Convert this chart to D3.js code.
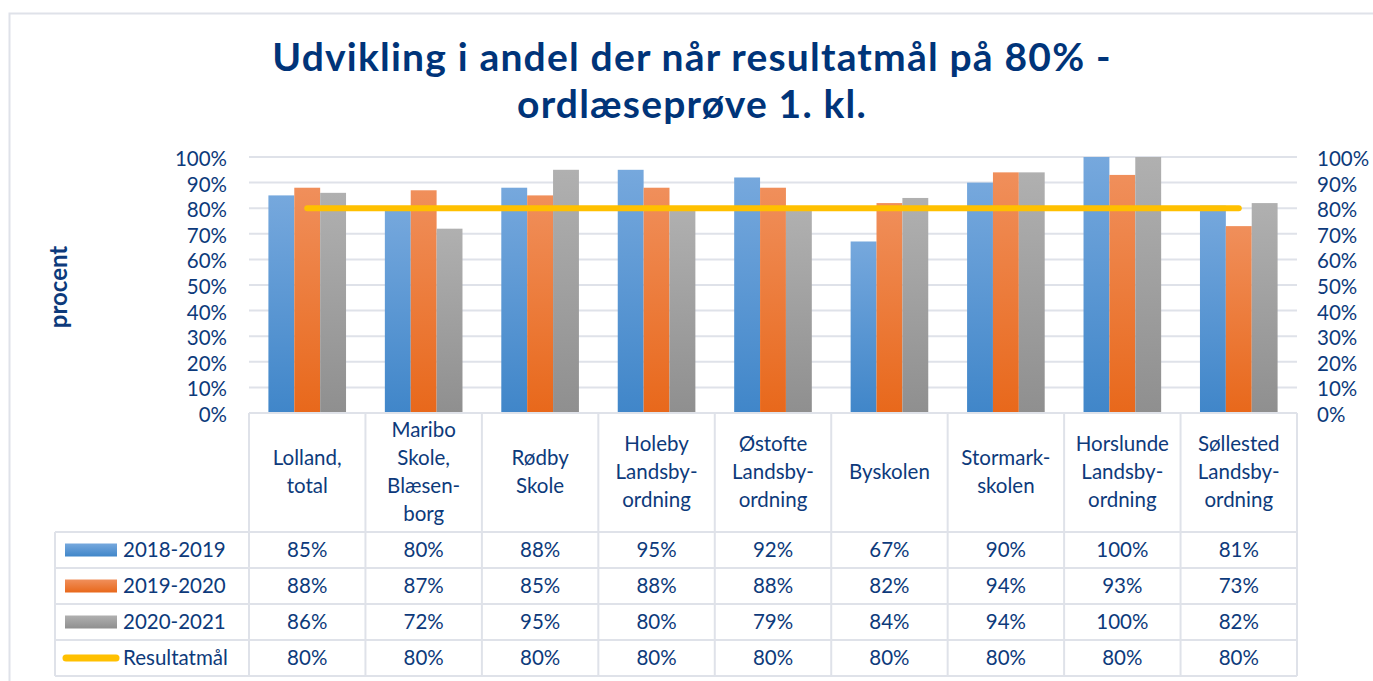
<!DOCTYPE html>
<html>
<head>
<meta charset="utf-8">
<script src="https://cdn.jsdelivr.net/npm/d3@7"></script>
<style>
  body { margin: 0; background: #fff; }
  svg { display: block; font-family: Lato, "Open Sans", sans-serif; }
</style>
</head>
<body>
<svg id="chart"></svg>
<script>
const width = 1373;
const height = 681;
const textColor = '#0d3a7b';
const lineColor = '#dfe2e9';

// data
const categories = [
  ['Lolland,', 'total'],
  ['Maribo', 'Skole,', 'Blæsen-', 'borg'],
  ['Rødby', 'Skole'],
  ['Holeby', 'Landsby-', 'ordning'],
  ['Østofte', 'Landsby-', 'ordning'],
  ['Byskolen'],
  ['Stormark-', 'skolen'],
  ['Horslunde', 'Landsby-', 'ordning'],
  ['Søllested', 'Landsby-', 'ordning']
];
const seriesNames = ['2018-2019', '2019-2020', '2020-2021'];
const s2018 = [85, 80, 88, 95, 92, 67, 90, 100, 81];
const s2019 = [88, 87, 85, 88, 88, 82, 94, 93, 73];
const s2020 = [86, 72, 95, 80, 79, 84, 94, 100, 82];
const goalName = 'Resultatmål';
const goal = [80, 80, 80, 80, 80, 80, 80, 80, 80];
const yTicks = [0, 10, 20, 30, 40, 50, 60, 70, 80, 90, 100];

const series = [s2018, s2019, s2020];
const gradients = [
  ['#76a8dd', '#4086c9'],
  ['#f08f5b', '#e8681b'],
  ['#b0b0b0', '#8f8f8f']
];

const svg = d3.select('#chart').attr('width', width).attr('height', height);

// outer frame
svg.append('rect')
  .attr('x', 9.5).attr('y', 13.5)
  .attr('width', width + 20).attr('height', height + 20)
  .attr('fill', 'none').attr('stroke', lineColor).attr('stroke-width', 2);

const defs = svg.append('defs');
gradients.forEach((g, i) => {
  const lg = defs.append('linearGradient').attr('id', 'grad' + i)
    .attr('x1', 0).attr('y1', 0).attr('x2', 0).attr('y2', 1);
  lg.append('stop').attr('offset', '0%').attr('stop-color', g[0]);
  lg.append('stop').attr('offset', '100%').attr('stop-color', g[1]);
});

const plotLeft = 249, plotRight = 1297, plotTop = 157, plotBottom = 413;
const tableLeft = 55;
const rowH = 36;
const headerBottom = 532;

const x0 = d3.scaleBand().domain(d3.range(categories.length)).range([plotLeft, plotRight]).padding(0);
const bw = x0.bandwidth();
const x1 = d3.scaleBand().domain(d3.range(series.length)).range([bw / 6, bw * 5 / 6]).padding(0);
const y = d3.scaleLinear().domain([0, 100]).range([plotBottom, plotTop]);

// title
const title = svg.append('text')
  .attr('text-anchor', 'middle')
  .attr('fill', '#003479')
  .attr('font-weight', 'bold')
  .attr('font-size', 39)
  .attr('letter-spacing', 1.2);
title.append('tspan').attr('x', 692).attr('y', 71).text('Udvikling i andel der når resultatmål på 80% -');
title.append('tspan').attr('x', 692).attr('y', 118).text('ordlæseprøve 1. kl.');

// y label
svg.append('text')
  .attr('transform', 'translate(67,287) rotate(-90)')
  .attr('text-anchor', 'middle')
  .attr('fill', textColor)
  .attr('font-weight', 'bold')
  .attr('font-size', 24)
  .text('procent');

// gridlines
svg.append('g').selectAll('line')
  .data(yTicks.filter(d => d > 0))
  .join('line')
  .attr('x1', plotLeft).attr('x2', plotRight)
  .attr('y1', d => y(d)).attr('y2', d => y(d))
  .attr('stroke', lineColor).attr('stroke-width', 2);

// axes
const leftAxis = svg.append('g')
  .attr('transform', `translate(${plotLeft - 22},2)`)
  .call(d3.axisLeft(y).tickValues(yTicks).tickFormat(d => d + '%').tickSize(0).tickPadding(0));
const rightAxis = svg.append('g')
  .attr('transform', `translate(${plotRight + 20},2)`)
  .call(d3.axisRight(y).tickValues(yTicks).tickFormat(d => d + '%').tickSize(0).tickPadding(0));
[leftAxis, rightAxis].forEach(a => {
  a.select('.domain').remove();
  a.selectAll('text')
    .attr('fill', textColor)
    .attr('font-size', 20.5)
    .attr('font-family', 'Lato, "Open Sans", sans-serif');
});

// bars
const groups = svg.append('g').selectAll('g')
  .data(categories.map((c, i) => i))
  .join('g')
  .attr('transform', i => `translate(${x0(i)},0)`);
groups.selectAll('rect')
  .data(i => series.map((s, k) => ({ k, v: s[i] })))
  .join('rect')
  .attr('x', d => x1(d.k))
  .attr('y', d => y(d.v))
  .attr('width', x1.bandwidth())
  .attr('height', d => plotBottom - y(d.v))
  .attr('fill', d => `url(#grad${d.k})`);

// goal line
svg.append('path')
  .datum(goal)
  .attr('fill', 'none')
  .attr('stroke', '#ffc000')
  .attr('stroke-width', 6)
  .attr('stroke-linecap', 'round')
  .attr('d', d3.line().x((d, i) => x0(i) + bw / 2).y(d => y(d)));

// data table
const table = svg.append('g').attr('stroke', lineColor).attr('stroke-width', 2);
table.append('line').attr('x1', plotLeft).attr('x2', plotRight).attr('y1', plotBottom).attr('y2', plotBottom);
d3.range(5).forEach(r => {
  const yy = headerBottom + r * rowH;
  table.append('line').attr('x1', tableLeft).attr('x2', plotRight).attr('y1', yy).attr('y2', yy);
});
d3.range(categories.length + 1).forEach(i => {
  const xx = plotLeft + i * bw;
  table.append('line').attr('x1', xx).attr('x2', xx).attr('y1', plotBottom).attr('y2', headerBottom + 4 * rowH);
});
table.append('line').attr('x1', tableLeft).attr('x2', tableLeft)
  .attr('y1', headerBottom).attr('y2', headerBottom + 4 * rowH);

// header labels
const headerMid = (plotBottom + headerBottom) / 2;
categories.forEach((lines, i) => {
  const t = svg.append('text')
    .attr('text-anchor', 'middle')
    .attr('fill', textColor)
    .attr('font-size', 20.5);
  lines.forEach((ln, j) => {
    t.append('tspan')
      .attr('x', x0(i) + bw / 2)
      .attr('y', headerMid + (j - (lines.length - 1) / 2) * 28 + 6)
      .text(ln);
  });
});

// values rows
const rows = [s2018, s2019, s2020, goal];
rows.forEach((vals, r) => {
  const cy = headerBottom + r * rowH + rowH / 2 + 7;
  vals.forEach((v, i) => {
    svg.append('text')
      .attr('x', x0(i) + bw / 2)
      .attr('y', cy)
      .attr('text-anchor', 'middle')
      .attr('fill', textColor)
      .attr('font-size', 20.5)
      .text(v + '%');
  });
});

// legend keys
seriesNames.forEach((name, k) => {
  const cy = headerBottom + k * rowH + rowH / 2;
  svg.append('rect')
    .attr('x', 65).attr('y', cy - 6.5)
    .attr('width', 52).attr('height', 13)
    .attr('fill', `url(#grad${k})`);
  svg.append('text')
    .attr('x', 123).attr('y', cy + 7)
    .attr('fill', textColor).attr('font-size', 20.5)
    .text(name);
});
const gy = headerBottom + 3 * rowH + rowH / 2;
svg.append('line')
  .attr('x1', 66).attr('x2', 116).attr('y1', gy).attr('y2', gy)
  .attr('stroke', '#ffc000').attr('stroke-width', 7).attr('stroke-linecap', 'round');
svg.append('text')
  .attr('x', 123).attr('y', gy + 7)
  .attr('fill', textColor).attr('font-size', 20.5)
  .text(goalName);
</script>
</body>
</html>
